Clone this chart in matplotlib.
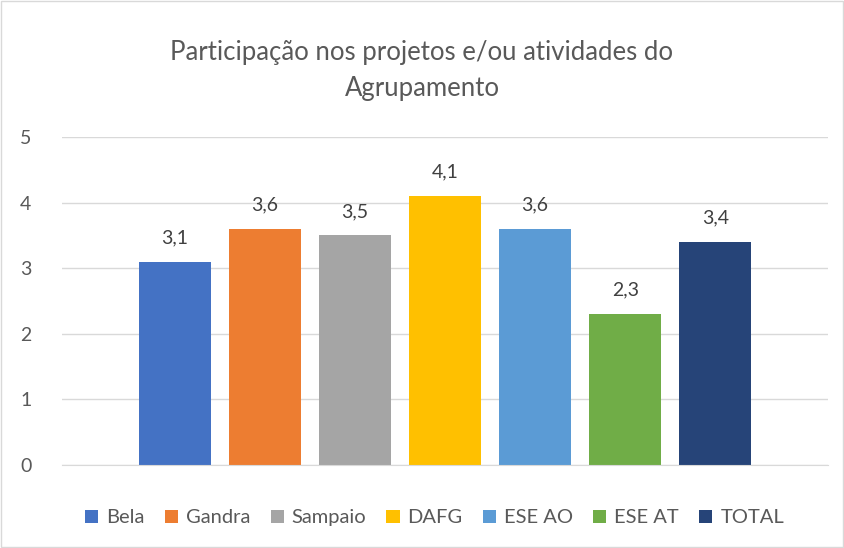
import matplotlib.pyplot as plt
from matplotlib.patches import Rectangle

escolas = ["Bela", "Gandra", "Sampaio", "DAFG", "ESE AO", "ESE AT", "TOTAL"]
valores = [3.1, 3.6, 3.5, 4.1, 3.6, 2.3, 3.4]
cores = ["#4472C4", "#ED7D31", "#A5A5A5", "#FFC000", "#5B9BD5", "#70AD47", "#264478"]
yticks = [0, 1, 2, 3, 4, 5]

plt.rcParams["font.family"] = ["Lato", "DejaVu Sans"]

fig = plt.figure(figsize=(8.44, 5.48), dpi=100)
ax = fig.add_axes([0.0735, 0.1515, 0.9075, 0.5985])

pos = list(range(len(escolas)))
bars = ax.bar(pos, valores, width=0.8, color=cores, label=escolas)

for b, v in zip(bars, valores):
    ax.annotate(f"{v:.1f}".replace(".", ","), (b.get_x() + b.get_width() / 2, v),
                xytext=(0, 11), textcoords="offset points",
                ha="center", va="bottom", fontsize=14, color="#404040")

ax.set_xlim(-1.25, 7.25)
ax.set_ylim(0, 5)
ax.set_yticks(yticks)
ax.set_xticks([])
ax.tick_params(axis="y", length=0, labelsize=14, labelcolor="#595959", pad=22)
ax.grid(axis="y", color="#D9D9D9", linewidth=1)
ax.set_axisbelow(True)
for s in ["top", "right", "left"]:
    ax.spines[s].set_visible(False)
ax.spines["bottom"].set_color("#D9D9D9")

fig.text(0.5, 0.872, "Participação nos projetos e/ou atividades do\nAgrupamento",
         ha="center", va="center", fontsize=18.5, color="#595959", linespacing=1.55)

fig.legend(handles=bars, labels=escolas, loc="center", bbox_to_anchor=(0.515, 0.055),
           ncol=7, frameon=False, fontsize=14.5, handlelength=0.65, handleheight=0.65,
           handletextpad=0.4, columnspacing=1.0, labelcolor="#595959")

fig.patches.append(Rectangle((0.001, 0.001), 0.998, 0.997, transform=fig.transFigure,
                             fill=False, edgecolor="#D9D9D9", linewidth=1))

fig.savefig("out.png", dpi=100)
